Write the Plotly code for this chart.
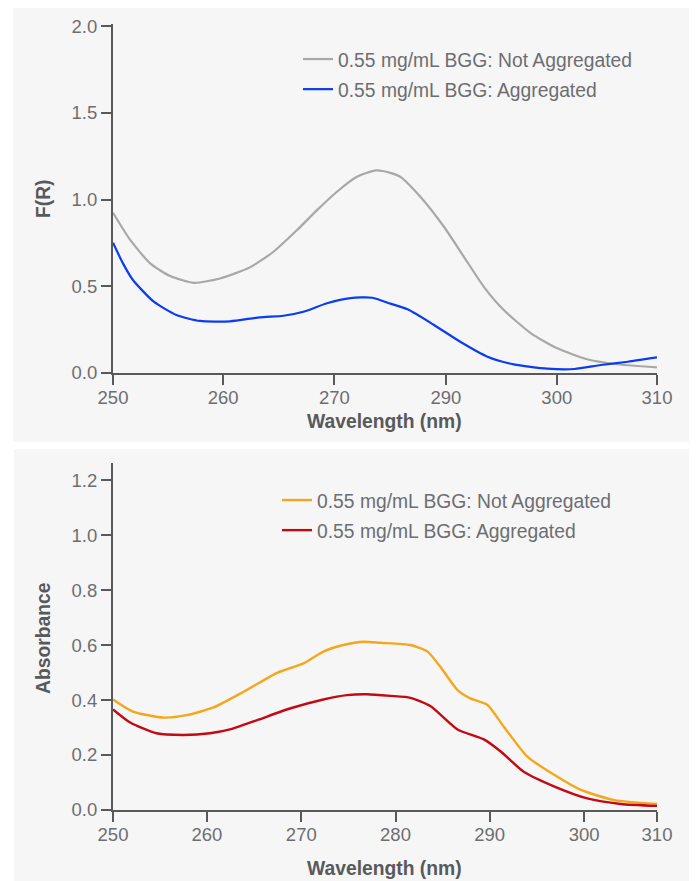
import plotly.graph_objects as go

# ---------------- data ----------------
LABEL_NA = "0.55 mg/mL BGG: Not Aggregated"
LABEL_AG = "0.55 mg/mL BGG: Aggregated"

# Top panel: F(R)
fr_wl_na = [250, 251.9, 254.1, 256.3, 258.9, 261.8, 265.1, 267.7, 270.3, 272.5,
            274.7, 276.9, 279.0, 280.6, 281.7, 283.9, 286.5, 288.7, 290.9, 293.1,
            296.1, 299.0, 302.3, 305.3, 310]
fr_na = [0.924, 0.767, 0.632, 0.559, 0.520, 0.545, 0.609, 0.699, 0.824, 0.939,
         1.045, 1.131, 1.168, 1.154, 1.131, 1.016, 0.843, 0.670, 0.497, 0.363,
         0.229, 0.142, 0.079, 0.052, 0.033]

fr_wl_ag = [250, 251.1, 252.2, 254.5, 257.0, 259.6, 262.9, 266.2, 268.8, 271.0,
            273.6, 276.2, 278.6, 280.6, 282.5, 285.4, 288.3, 291.3, 294.2, 297.9,
            300.9, 303.8, 306.8, 310]
fr_ag = [0.751, 0.632, 0.536, 0.411, 0.334, 0.300, 0.298, 0.321, 0.330, 0.353,
         0.402, 0.432, 0.434, 0.400, 0.367, 0.277, 0.180, 0.094, 0.050, 0.025,
         0.023, 0.046, 0.065, 0.090]

# Bottom panel: Absorbance
ab_wl_na = [250, 252.2, 255.6, 258.1, 261.1, 264.4, 268.1, 271.0, 273.2, 275.4,
            277.7, 279.5, 282.8, 284.7, 286.1, 288.0, 289.4, 291.3, 293.1, 295.7,
            298.7, 301.6, 305.3, 310]
ab_na = [0.402, 0.358, 0.336, 0.345, 0.373, 0.430, 0.499, 0.533, 0.576, 0.600,
         0.612, 0.608, 0.600, 0.576, 0.521, 0.436, 0.406, 0.382, 0.303, 0.194,
         0.127, 0.073, 0.036, 0.022]

ab_wl_ag = [250, 251.9, 254.8, 257.8, 260.7, 262.9, 265.9, 269.6, 273.2, 275.8,
            278.0, 280.6, 282.8, 285.0, 288.0, 290.9, 292.8, 295.3, 298.7, 302.3,
            306.0, 310]
ab_ag = [0.366, 0.318, 0.279, 0.273, 0.279, 0.293, 0.327, 0.370, 0.402, 0.418,
         0.421, 0.415, 0.408, 0.378, 0.293, 0.257, 0.212, 0.139, 0.085, 0.042,
         0.022, 0.015]

# tick labels as printed in the reference
top_xtick_text = ["250", "260", "270", "290", "300", "310"]
top_xtick_vals = [250, 262.15, 274.42, 286.72, 298.95, 310]
bot_xtick_text = ["250", "260", "270", "280", "290", "300", "310"]
bot_xtick_vals = [250, 260.35, 270.77, 281.16, 291.55, 301.97, 310]
top_ytick_vals = [0.0, 0.5, 1.0, 1.5, 2.0]
bot_ytick_vals = [0.0, 0.2, 0.4, 0.6, 0.8, 1.0, 1.2]

# ---------------- styling ----------------
PAGE_W, PAGE_H = 697, 881
OFF = 8  # page body margin
W, H = PAGE_W - OFF, PAGE_H - OFF
FONT = "Liberation Sans, Arial, sans-serif"
AXIS_C = "#58595b"
TICK_C = "#6d6e71"
PANEL_C = "#f6f6f6"
GRAY = "#a8a8a8"
BLUE = "#0a3df2"
ORANGE = "#f4a71d"
RED = "#c10a14"


def px_x(p):
    return max(0.0, (p - OFF) / W)


def px_y(p):
    return min(1.0, 1 - (p - OFF) / H)


fig = go.Figure()

fig.add_trace(go.Scatter(x=fr_wl_na, y=fr_na, name=LABEL_NA, mode="lines",
                         line=dict(color=GRAY, width=2.2, shape="spline", smoothing=0.6),
                         xaxis="x", yaxis="y", legend="legend", legendgroup="a"))
fig.add_trace(go.Scatter(x=fr_wl_ag, y=fr_ag, name=LABEL_AG, mode="lines",
                         line=dict(color=BLUE, width=2.2, shape="spline", smoothing=0.6),
                         xaxis="x", yaxis="y", legend="legend", legendgroup="b"))
fig.add_trace(go.Scatter(x=ab_wl_na, y=ab_na, name=LABEL_NA, mode="lines",
                         line=dict(color=ORANGE, width=2.4, shape="spline", smoothing=0.6),
                         xaxis="x2", yaxis="y2", legend="legend2", legendgroup="c"))
fig.add_trace(go.Scatter(x=ab_wl_ag, y=ab_ag, name=LABEL_AG, mode="lines",
                         line=dict(color=RED, width=2.4, shape="spline", smoothing=0.6),
                         xaxis="x2", yaxis="y2", legend="legend2", legendgroup="d"))

xdom = [px_x(113), px_x(657)]
axis_common = dict(showline=True, linecolor=AXIS_C, linewidth=2.2, ticks="outside",
                   ticklen=10, tickwidth=2.2, tickcolor=AXIS_C, showgrid=False,
                   zeroline=False, tickfont=dict(family=FONT, size=18.5, color=TICK_C),
                   fixedrange=True, automargin=False)

legend_common = dict(xanchor="left", yanchor="top", bgcolor="rgba(0,0,0,0)",
                     font=dict(family=FONT, size=19.3, color=TICK_C),
                     itemwidth=30, tracegroupgap=2)

fig.update_layout(
    width=W, height=H,
    margin=dict(l=0, r=0, t=0, b=0, pad=0, autoexpand=False),
    paper_bgcolor="white",
    plot_bgcolor="white",
    font=dict(family=FONT, color=TICK_C),
    xaxis=dict(domain=xdom, range=[250, 310], tickvals=top_xtick_vals,
               ticktext=top_xtick_text, anchor="y", ticklabelstandoff=-3, **axis_common),
    yaxis=dict(domain=[px_y(373), px_y(24)], range=[0, 2.012], tickvals=top_ytick_vals,
               tickformat=".1f", anchor="x", **axis_common),
    xaxis2=dict(domain=xdom, range=[250, 310], tickvals=bot_xtick_vals,
                ticktext=bot_xtick_text, anchor="y2", ticklabelstandoff=-3, **axis_common),
    yaxis2=dict(domain=[px_y(810), px_y(463)], range=[0, 1.262], tickvals=bot_ytick_vals,
                tickformat=".1f", anchor="x2", **axis_common),
    legend=dict(x=px_x(298), y=px_y(40), **legend_common),
    legend2=dict(x=px_x(277), y=px_y(481), **legend_common),
    showlegend=True,
    shapes=[
        dict(type="rect", xref="paper", yref="paper", x0=px_x(13), x1=px_x(693),
             y0=px_y(442), y1=px_y(2), fillcolor=PANEL_C, line=dict(width=0), layer="below"),
        dict(type="rect", xref="paper", yref="paper", x0=px_x(14), x1=px_x(693),
             y0=px_y(881), y1=px_y(449), fillcolor=PANEL_C, line=dict(width=0), layer="below"),
    ],
    annotations=[
        dict(text="<b>Wavelength (nm)</b>", xref="paper", yref="paper", x=px_x(384),
             y=px_y(421), showarrow=False, xanchor="center", yanchor="middle",
             font=dict(family=FONT, size=19.3, color=AXIS_C)),
        dict(text="<b>F(R)</b>", xref="paper", yref="paper", x=px_x(43), y=px_y(199),
             showarrow=False, textangle=-90, xanchor="center", yanchor="middle",
             font=dict(family=FONT, size=19.3, color=AXIS_C)),
        dict(text="<b>Wavelength (nm)</b>", xref="paper", yref="paper", x=px_x(384),
             y=px_y(868), showarrow=False, xanchor="center", yanchor="middle",
             font=dict(family=FONT, size=19.3, color=AXIS_C)),
        dict(text="<b>Absorbance</b>", xref="paper", yref="paper", x=px_x(43), y=px_y(638),
             showarrow=False, textangle=-90, xanchor="center", yanchor="middle",
             font=dict(family=FONT, size=19.3, color=AXIS_C)),
    ],
)

fig.write_html("out.html")
